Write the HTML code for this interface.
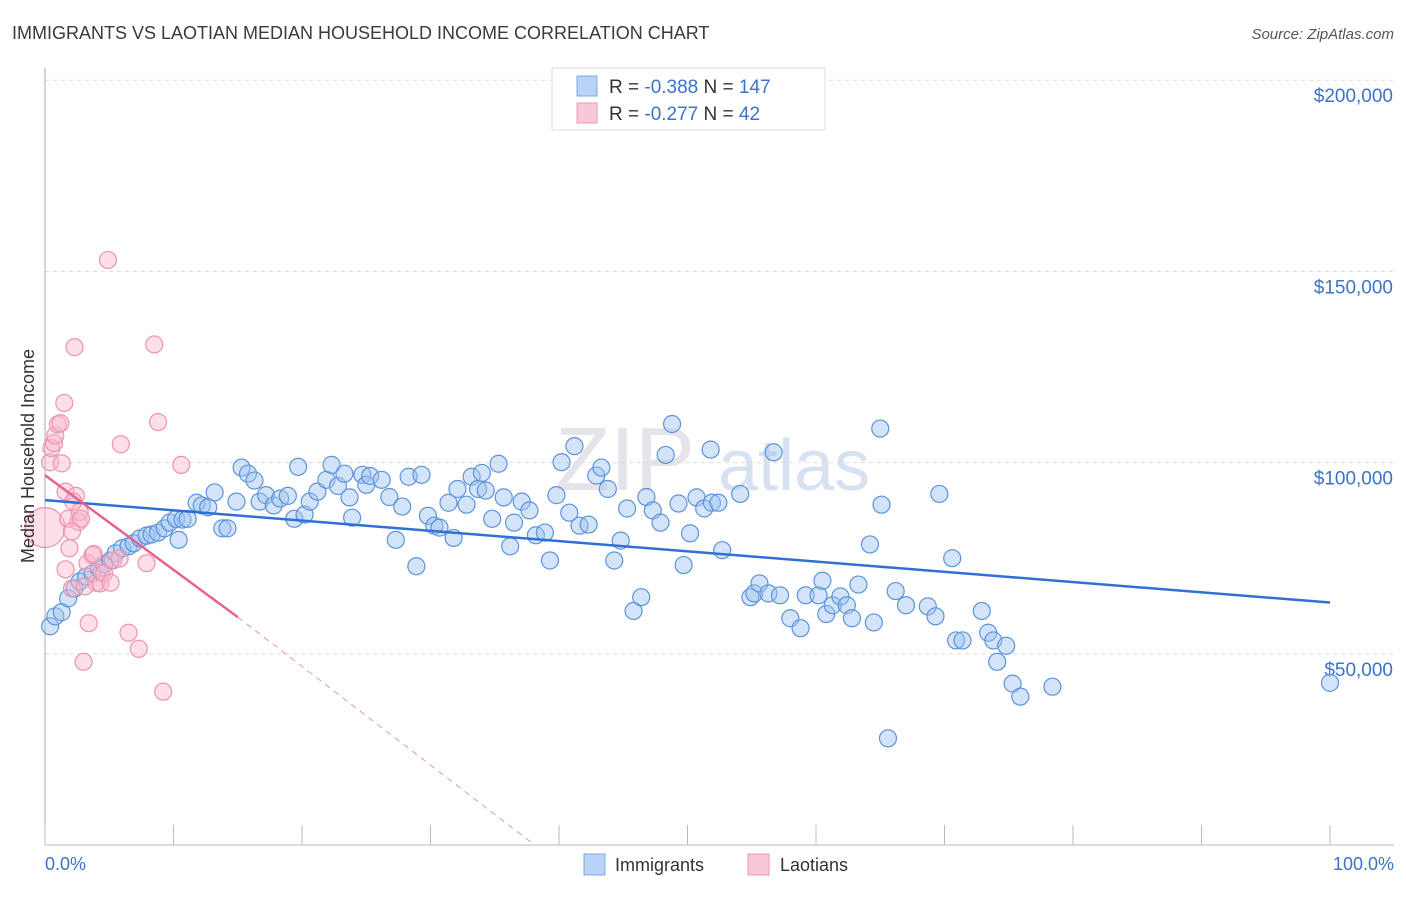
<!DOCTYPE html>
<html><head><meta charset="utf-8"><style>
body{margin:0;background:#fff;font-family:"Liberation Sans",sans-serif;}
svg text{font-family:"Liberation Sans",sans-serif;}
</style></head><body>
<svg id="chart" width="1406" height="892" xmlns="http://www.w3.org/2000/svg">
<text x="12" y="39" font-size="18" fill="#3a3a3a">IMMIGRANTS VS LAOTIAN MEDIAN HOUSEHOLD INCOME CORRELATION CHART</text>
<text x="1394" y="39" font-size="15" fill="#555" text-anchor="end" font-style="italic">Source: ZipAtlas.com</text>
<text x="555" y="490" font-size="90" fill="#e4e4ea" font-family="Liberation Serif">ZIP</text>
<text x="718" y="490" font-size="72" fill="#d6e2f2">atlas</text>
<g id="grid"></g>
<g id="axes"></g>
<g id="pts"></g>
<g id="lines"></g>
<text transform="translate(34,456) rotate(-90)" font-size="18" fill="#333" text-anchor="middle">Median Household Income</text>
<text x="45" y="870" font-size="18" fill="#3b73c8">0.0%</text>
<text x="1394" y="870" font-size="18" fill="#3b73c8" text-anchor="end">100.0%</text>
<g>
<rect x="584" y="854" width="21" height="21" fill="#b8d3f5" stroke="#7eaaea"/>
<text x="615" y="871" font-size="18" fill="#333">Immigrants</text>
<rect x="748" y="854" width="21" height="21" fill="#f9c8d6" stroke="#ee9ab3"/>
<text x="780" y="871" font-size="18" fill="#333">Laotians</text>
</g>
<g>
<rect x="552" y="68" width="273" height="62" fill="#fff" stroke="#ddd"/>
<rect x="577" y="76" width="20" height="20" fill="#b8d3f5" stroke="#7eaaea"/>
<text x="609" y="93" font-size="19" fill="#333">R = <tspan fill="#3b73c8">-0.388</tspan>   N = <tspan fill="#3b73c8">147</tspan></text>
<rect x="577" y="103" width="20" height="20" fill="#f9c8d6" stroke="#ee9ab3"/>
<text x="609" y="120" font-size="19" fill="#333">R = <tspan fill="#3b73c8">-0.277</tspan>   N = <tspan fill="#3b73c8">  42</tspan></text>
</g>
</svg>
<script>
const yTicks=[50000,100000,150000,200000];
const yTickLabels=["$50,000","$100,000","$150,000","$200,000"];
const xTicks=[0,10,20,30,40,50,60,70,80,90,100];
const immX=[0.4,0.8,1.3,1.8,2.3,2.7,3.2,3.7,4.2,4.6,5.1,5.5,6.0,6.5,6.9,7.4,7.9,8.3,8.8,9.3,9.7,10.2,10.7,11.1,10.4,11.8,12.2,12.7,13.2,13.8,14.2,14.9,15.3,15.8,16.3,16.7,17.2,17.8,18.3,18.9,19.4,19.7,20.2,20.6,21.2,21.9,22.3,22.8,23.3,23.7,23.9,24.7,25.0,25.3,26.2,26.8,27.3,27.8,28.3,28.9,29.3,29.8,30.3,30.7,31.4,31.8,32.1,32.8,33.2,33.7,34.0,34.3,34.8,35.3,35.7,36.2,36.5,37.1,37.7,38.2,38.9,39.3,39.8,40.2,40.8,41.2,41.6,42.3,42.9,43.3,43.8,44.3,44.8,45.3,45.8,46.4,46.8,47.3,47.9,48.3,48.8,49.3,49.7,50.2,50.7,51.3,51.8,51.9,52.4,52.7,54.1,54.9,55.2,55.6,56.3,56.7,57.2,58.0,58.8,59.2,60.2,60.5,60.8,61.3,61.9,62.4,62.8,63.3,64.2,64.5,65.0,65.1,65.6,66.2,67.0,68.7,69.3,69.6,70.6,70.9,71.4,72.9,73.4,73.8,74.1,74.8,75.3,75.9,78.4,100.0];
const immY=[57200,59800,60900,64500,67100,68900,70200,71000,72300,73400,74400,76300,77600,78100,78900,80200,80900,81200,81700,82800,84300,85300,85100,85300,79800,89500,88800,88300,92200,82800,82800,89800,98700,97100,95300,89800,91500,88800,90600,91300,85300,98900,86400,89800,92400,95500,99400,93900,97100,90900,85600,96800,94200,96500,95500,91000,79800,88500,96300,72900,96800,86100,83500,83000,89500,80300,93100,89000,96300,93100,97300,92700,85300,99700,90900,78100,84300,89800,87500,81000,81700,74400,91500,100100,86900,104300,83500,83800,96600,98700,93100,74400,79600,88000,61200,64800,91000,87500,84300,102000,110100,89300,73200,81500,90900,88000,103400,89500,89500,77100,91800,64800,65800,68400,65800,102700,65300,59300,56700,65300,65300,69100,60400,62700,65000,62700,59300,68100,78600,58200,108900,89000,27900,66400,62700,62400,59800,91800,75000,53500,53500,61200,55500,53500,47900,52100,42200,38800,41400,42400];
const laoX=[0.0,0.4,0.5,0.7,0.8,1.0,1.2,1.3,1.5,1.6,1.8,1.9,2.1,2.3,2.4,2.6,2.7,2.8,3.0,3.1,3.3,3.4,3.7,3.8,4.0,4.3,4.4,4.6,4.9,5.1,5.3,5.8,5.9,6.5,7.3,7.9,8.5,8.8,9.2,10.6,2.2,1.6,2.1];
const laoY=[83000,100100,103800,105100,107100,110000,110300,99800,115600,92400,85300,77600,67100,130200,91300,84500,87100,85300,47900,67600,73700,58000,75800,76100,68600,68400,71300,71000,153000,68600,74400,74900,104800,55500,51300,73700,130900,110600,40100,99400,89800,72100,82000];
const immLine=[90200,63400]; // at x=0 and x=100
const laoLine=[96700,59600,0]; // at 0, 15, solid end; dashed to zero
const laoZeroX=38.1;
const X=v=>45+v*12.85, Y=v=>845-v*191.2/50000;
const NS='http://www.w3.org/2000/svg';
function mk(tag,attrs,parent){const e=document.createElementNS(NS,tag);for(const k in attrs)e.setAttribute(k,attrs[k]);parent.appendChild(e);return e;}
const grid=document.getElementById('grid'),axes=document.getElementById('axes'),pts=document.getElementById('pts'),lines=document.getElementById('lines');
yTicks.forEach((t,i)=>{
 const l=mk('line',{x1:45,x2:1394,y1:Y(t),y2:Y(t),stroke:'#dcdcdc','stroke-dasharray':'4,4'},grid);
 
 
 const tx=mk('text',{x:1393,y:Y(t)+22,'font-size':19,fill:'#3b73c8','text-anchor':'end'},grid);
 tx.textContent=yTickLabels[i];
 
 
});
const ya=mk('line',{x1:45,x2:45,y1:68,y2:845,stroke:'#aaa'},axes);


const xa=mk('line',{x1:45,x2:1394,y1:845,y2:845,stroke:'#bbb'},axes);


xTicks.forEach(t=>{
 const l=mk('line',{x1:X(t),x2:X(t),y1:825,y2:845,stroke:'#bbb'},axes);
 
 
});
immX.forEach((x,i)=>{
 const c=mk('circle',{cx:X(x),cy:Y(immY[i]),r:8.5,fill:'rgba(160,196,240,0.45)',stroke:'#5b93dd','stroke-width':1.2},pts);
 
 
});
laoX.forEach((x,i)=>{
 const c=mk('circle',{cx:X(x),cy:Y(laoY[i]),r:i==0?20:8.5,fill:'rgba(248,185,204,0.45)',stroke:'#ee93ae','stroke-width':1.2},pts);
 
 
});
const l1=mk('line',{x1:X(0),y1:Y(immLine[0]),x2:X(100),y2:Y(immLine[1]),stroke:'#2f6fd6','stroke-width':2.5},lines);


const l2=mk('line',{x1:X(0),y1:Y(laoLine[0]),x2:X(15),y2:Y(laoLine[1]),stroke:'#e8628e','stroke-width':2.5},lines);


const l3=mk('line',{x1:X(15),y1:Y(laoLine[1]),x2:X(laoZeroX),y2:Y(laoLine[2]),stroke:'#ee93ae','stroke-width':1,'stroke-dasharray':'6,5'},lines);


</script>
</body></html>
